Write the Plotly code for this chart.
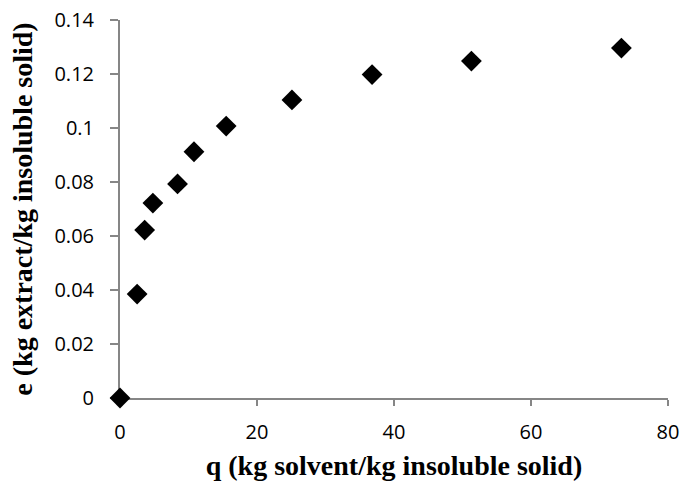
import plotly.graph_objects as go

q_values = [0, 2.5, 3.6, 4.8, 8.4, 10.8, 15.5, 25.1, 36.8, 51.3, 73.2]
e_values = [0, 0.0385, 0.0622, 0.0722, 0.0793, 0.0912, 0.1007, 0.1104, 0.1198, 0.1248, 0.1296]

x_ticks = [0, 20, 40, 60, 80]
y_ticks = [0, 0.02, 0.04, 0.06, 0.08, 0.1, 0.12, 0.14]
y_tick_text = ["0", "0.02", "0.04", "0.06", "0.08", "0.1", "0.12", "0.14"]

fig = go.Figure()
fig.add_trace(go.Scatter(
    x=q_values, y=e_values, mode="markers",
    marker=dict(symbol="diamond", size=16, color="black"),
    cliponaxis=False, showlegend=False,
))

axis_font = dict(family="Open Sans, Liberation Sans, sans-serif", size=20, color="black")
title_font = dict(family="Liberation Serif, Times New Roman, serif", size=28, color="black")

fig.update_layout(
    width=681, height=484,
    margin=dict(l=120, r=13, t=20, b=86),
    paper_bgcolor="white", plot_bgcolor="white",
    xaxis=dict(
        range=[0, 80], tickvals=x_ticks, ticktext=[str(v) for v in x_ticks],
        showgrid=False, zeroline=False, showline=True, linecolor="#868686", linewidth=2,
        ticks="outside", ticklen=6, tickcolor="#868686", tickwidth=2,
        tickfont=axis_font, automargin=False, ticklabelstandoff=9,
        ticklabeloverflow="allow", layer="below traces",
        title=dict(text="<b>q (kg solvent/kg insoluble solid)</b>", font=title_font, standoff=11),
    ),
    yaxis=dict(
        range=[0, 0.14], tickvals=y_ticks, ticktext=y_tick_text,
        showgrid=False, zeroline=False, showline=True, linecolor="#868686", linewidth=2,
        ticks="outside", ticklen=8, tickcolor="#868686", tickwidth=2,
        tickfont=axis_font, automargin=False, ticklabelstandoff=12,
        ticklabeloverflow="allow", layer="below traces",
        title=dict(text="<b>e (kg extract/kg insoluble solid)</b>", font=title_font, standoff=14),
    ),
)

fig.write_html(
    "out.html",
    config={"displayModeBar": False},
    post_script="document.body.style.margin='0';document.body.style.overflow='hidden';",
)
